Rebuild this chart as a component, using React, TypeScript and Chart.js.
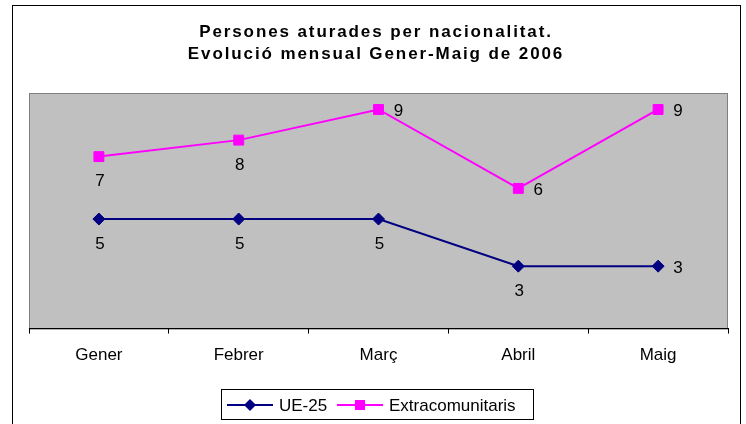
import React, { useEffect, useRef } from "react";
import { Chart, registerables } from "chart.js";

Chart.register(...registerables);

const months = ["Gener", "Febrer", "Març", "Abril", "Maig"];
const ue25 = [4.65, 4.65, 4.65, 2.65, 2.65];
const extracomunitaris = [7.3, 8.0, 9.3, 5.95, 9.3];
const titleLines = ["Persones aturades per nacionalitat.", "Evolució mensual Gener-Maig de 2006"];
const ueLabelPos = ["below", "below", "below", "below", "right"];
const extraLabelPos = ["below", "below", "right", "right", "right"];

const FONT = "'Liberation Sans', Arial, sans-serif";

const framePlugin = {
  id: "frame",
  beforeDraw(chart: any) {
    const { ctx, chartArea } = chart;
    ctx.save();
    ctx.fillStyle = "#ffffff";
    ctx.fillRect(0, 0, chart.width, chart.height);
    ctx.strokeStyle = "#000000";
    ctx.lineWidth = 1;
    ctx.strokeRect(12.5, 5.5, 728, 430);
    ctx.fillStyle = "#C0C0C0";
    ctx.fillRect(chartArea.left, chartArea.top, chartArea.right - chartArea.left, chartArea.bottom - chartArea.top);
    ctx.strokeStyle = "#808080";
    ctx.strokeRect(chartArea.left + 0.5, chartArea.top + 0.5, chartArea.right - chartArea.left - 1, chartArea.bottom - chartArea.top);
    // title
    ctx.fillStyle = "#000000";
    ctx.font = `bold 17px ${FONT}`;
    (ctx as any).letterSpacing = "1.9px";
    ctx.textAlign = "center";
    ctx.textBaseline = "alphabetic";
    ctx.fillText(titleLines[0], 376, 37);
    ctx.fillText(titleLines[1], 376, 59);
    ctx.restore();
  },
  afterDatasetsDraw(chart: any) {
    const { ctx } = chart;
    ctx.save();
    ctx.fillStyle = "#000000";
    ctx.font = `17px ${FONT}`;
    ctx.textAlign = "center";
    ctx.textBaseline = "middle";
    chart.data.datasets.forEach((ds: any, di: number) => {
      const meta = chart.getDatasetMeta(di);
      const pos = di === 0 ? ueLabelPos : extraLabelPos;
      meta.data.forEach((pt: any, i: number) => {
        const txt = String(Math.round(ds.data[i]));
        if (pos[i] === "right") ctx.fillText(txt, pt.x + 20, pt.y + 2);
        else ctx.fillText(txt, pt.x + 1, pt.y + 25);
      });
    });
    ctx.restore();
  },
  afterDraw(chart: any) {
    const { ctx } = chart;
    ctx.save();
    ctx.strokeStyle = "#000000";
    ctx.lineWidth = 1;
    ctx.strokeRect(221.5, 389.5, 312, 30);
    const cy = 405;
    const items = [
      { x0: 227, x1: 273, label: chart.data.datasets[0].label, color: chart.data.datasets[0].borderColor, style: "rectRot", tx: 279 },
      { x0: 337, x1: 383, label: chart.data.datasets[1].label, color: chart.data.datasets[1].borderColor, style: "rect", tx: 389 },
    ];
    items.forEach((it) => {
      ctx.strokeStyle = it.color;
      ctx.lineWidth = 2;
      ctx.beginPath();
      ctx.moveTo(it.x0, cy);
      ctx.lineTo(it.x1, cy);
      ctx.stroke();
      ctx.fillStyle = it.color;
      const cx = (it.x0 + it.x1) / 2;
      if (it.style === "rect") {
        ctx.fillRect(cx - 5, cy - 5, 10, 10);
      } else {
        ctx.beginPath();
        ctx.moveTo(cx - 6, cy);
        ctx.lineTo(cx, cy - 6);
        ctx.lineTo(cx + 6, cy);
        ctx.lineTo(cx, cy + 6);
        ctx.closePath();
        ctx.fill();
      }
      ctx.fillStyle = "#000000";
      ctx.font = `17px ${FONT}`;
      ctx.textAlign = "left";
      ctx.textBaseline = "middle";
      ctx.fillText(it.label, it.tx, cy + 1);
    });
    ctx.restore();
  },
};

export default function App() {
  const ref = useRef<HTMLCanvasElement>(null);
  useEffect(() => {
    if (!ref.current) return;
    const chart = new Chart(ref.current, {
      type: "line",
      data: {
        labels: months,
        datasets: [
          {
            label: "UE-25",
            data: ue25,
            borderColor: "#000080",
            backgroundColor: "#000080",
            borderWidth: 2,
            pointStyle: "rectRot",
            pointRadius: 6,
            pointBorderWidth: 1,
            tension: 0,
          },
          {
            label: "Extracomunitaris",
            data: extracomunitaris,
            borderColor: "#FF00FF",
            backgroundColor: "#FF00FF",
            borderWidth: 2,
            pointStyle: "rect",
            pointRadius: 7,
            pointBorderWidth: 1,
            tension: 0,
          },
        ],
      },
      options: {
        responsive: false,
        animation: false,
        layout: { padding: { left: 29, right: 18, top: 93, bottom: 46 } },
        plugins: {
          legend: { display: false },
          title: { display: false },
          tooltip: { enabled: false },
        },
        scales: {
          y: { display: false, min: 0, max: 10 },
          x: {
            offset: true,
            grid: { offset: true, drawOnChartArea: false, drawTicks: true, tickLength: 5, color: "#000000" },
            border: { display: true, color: "#000000", width: 1 },
            ticks: { color: "#000000", font: { family: FONT, size: 17 }, padding: 12 },
          },
        },
      },
      plugins: [framePlugin],
    });
    return () => chart.destroy();
  }, []);
  return (
    <div style={{ position: "fixed", left: 0, top: 0, width: 746, height: 424, background: "#fff" }}>
      <canvas ref={ref} width={746} height={424} style={{ display: "block" }} />
    </div>
  );
}
